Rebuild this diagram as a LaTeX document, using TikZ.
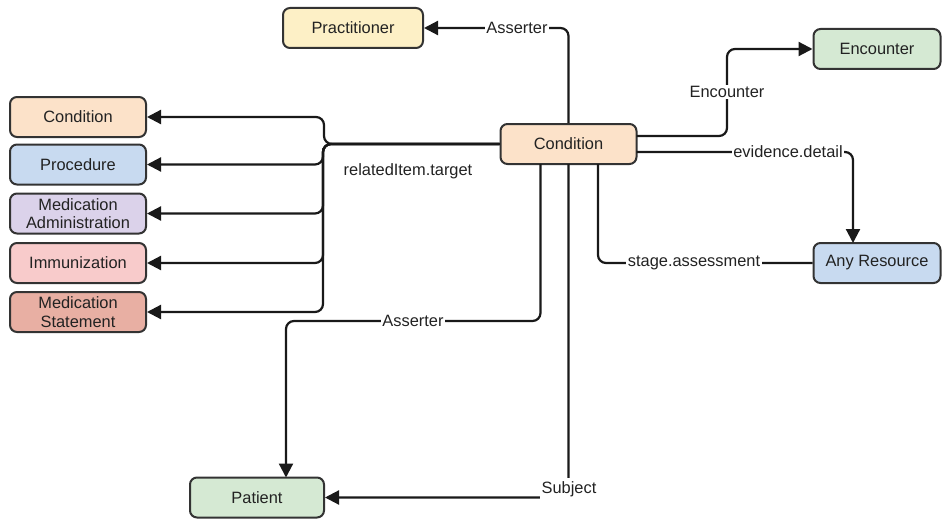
\documentclass[tikz,border=0pt]{standalone}
\usepackage{fontspec}
\setmainfont{Liberation Sans}
\usetikzlibrary{arrows.meta}
\definecolor{boxline}{HTML}{333333}
\definecolor{txt}{HTML}{222222}
\definecolor{cYellow}{HTML}{FDF0C6}
\definecolor{cPeach}{HTML}{FCE2C9}
\definecolor{cBlue}{HTML}{C8DAF0}
\definecolor{cLav}{HTML}{DBD2EA}
\definecolor{cPink}{HTML}{F8CBCB}
\definecolor{cSalmon}{HTML}{E8AFA3}
\definecolor{cGreen}{HTML}{D5E9D3}
\tikzset{
  box/.style={draw=boxline, line width=2pt, rounded corners=7pt, minimum width=136pt,
    minimum height=40pt, align=center, text=txt, inner sep=1pt,
    font=\fontsize{16.4}{18.5}\selectfont},
  link/.style={draw=black!90, line width=2.2pt, rounded corners=8pt},
  arr/.style={link, -{Triangle[length=14pt,width=14pt]}},
  lab/.style={fill=white, text=txt, inner sep=1.5pt, font=\fontsize{16.4}{18.5}\selectfont}
}
\begin{document}
\begin{tikzpicture}[x=1pt, y=-1pt]
\useasboundingbox (0,0) rectangle (942,519);
\fill[white] (0,0) rectangle (942,519);

% boxes
\node[box, fill=cYellow, minimum width=140pt] (prac) at (353,28) {Practitioner};
\node[box, fill=cPeach] (cond) at (568.5,144) {Condition};
\node[box, fill=cPeach] (lcond) at (78,117) {Condition};
\node[box, fill=cBlue] (proc) at (78,164.5) {Procedure};
\node[box, fill=cLav] (madm) at (78,213.5) {Medication\\Administration};
\node[box, fill=cPink] (imm) at (78,263) {Immunization};
\node[box, fill=cSalmon] (mst) at (78,312) {Medication\\Statement};
\node[box, fill=cGreen, minimum width=127pt] (enc) at (877,49) {Encounter};
\node[box, fill=cBlue, minimum width=127pt] (anyr) at (877,263) {Any Resource};
\node[box, fill=cGreen, minimum width=134pt] (pat) at (257,497.5) {Patient};

% Condition -> Practitioner (Asserter)
\draw[arr] (cond.north) -- (568.5,28) -- (prac.east);
\node[lab] (l1) at (517,28) {Asserter};

% relatedItem.target fan-out
\draw[arr] (cond.west) -- (324,144) -- (324,117) -- (lcond.east);
\draw[arr] (cond.west) -- (323,144) -- (323,164.5) -- (proc.east);
\draw[arr] (cond.west) -- (323,144) -- (323,213.5) -- (madm.east);
\draw[arr] (cond.west) -- (323,144) -- (323,263) -- (imm.east);
\draw[arr] (cond.west) -- (323,144) -- (323,312) -- (mst.east);
\node[lab, fill=none] (l2) at (408,171) {relatedItem.target};

% Condition -> Encounter
\coordinate (c1) at (636.5,136);
\draw[arr] (c1) -- (727,136) -- (727,49) -- (enc.west);
\node[lab] (l3) at (727,92) {Encounter};

% Condition -> Any Resource (evidence.detail)
\coordinate (c2) at (636.5,152);
\draw[arr] (c2) -- (853,152) -- (853,243);
\node[lab] (l4) at (788,152) {evidence.detail};

% Condition -- Any Resource (stage.assessment)
\coordinate (c3) at (598,164);
\draw[link] (c3) -- (598,263) -- (anyr.west);
\node[lab] (l5) at (694,263) {stage.assessment};

% Condition -> Patient (Asserter)
\coordinate (c4) at (540.5,164);
\draw[arr] (c4) -- (540.5,321) -- (286,321) -- (286,477.5);
\node[lab] (l6) at (413,321) {Asserter};

% Condition -> Patient (Subject)
\coordinate (c5) at (568.5,164);
\draw[arr] (c5) -- (568.5,497.5) -- (pat.east);
\node[lab, inner ysep=3pt] (l7) at (569,489) {Subject};
\end{tikzpicture}
\end{document}
